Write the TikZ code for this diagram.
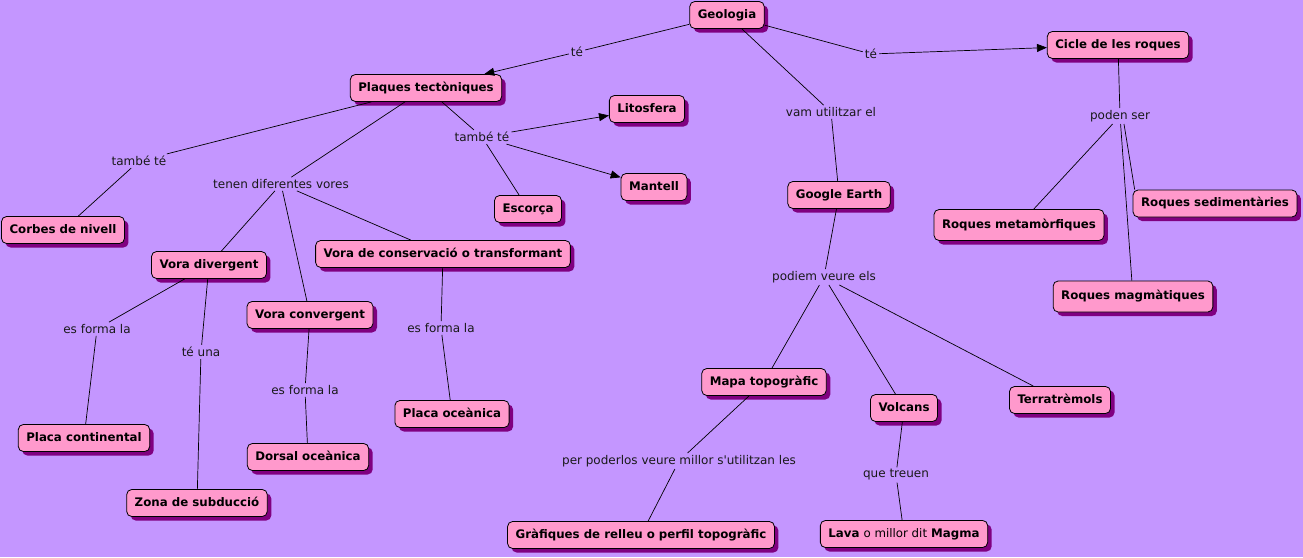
\documentclass[tikz,border=0pt]{standalone}
\usepackage{fontspec}
\setmainfont{DejaVu Sans}[Ligatures=TeXOff]
\usetikzlibrary{shadows,arrows.meta}
\definecolor{bg}{RGB}{196,150,255}
\definecolor{nodefill}{RGB}{255,153,204}
\definecolor{shadowc}{RGB}{128,0,128}
\begin{document}
\begin{tikzpicture}[x=1pt,y=-1pt,
 concept/.style={draw=black, fill=nodefill, rounded corners=5pt,
   font=\bfseries\fontsize{11.8}{13}\selectfont, inner xsep=8pt, inner ysep=7.5pt,
   text height=9pt, text depth=3pt,
   drop shadow={shadow xshift=4pt, shadow yshift=-4pt, fill=shadowc, opacity=1},
   line width=0.8pt},
 lbl/.style={font=\fontsize{12}{13}\selectfont, inner sep=2pt, text=black!90},
 conn/.style={draw, line width=0.7pt},
 arr/.style={conn, -{Triangle[length=10pt,width=8pt]}}]
\fill[bg] (0,0) rectangle (1303,557);
\useasboundingbox (0,0) rectangle (1303,557);

% concepts
\node[concept] (geo) at (727,15) {Geologia};
\node[concept] (plaq) at (426,88) {Plaques tectòniques};
\node[concept] (cicle) at (1118,45) {Cicle de les roques};
\node[concept] (lito) at (647,109) {Litosfera};
\node[concept] (mant) at (654,187) {Mantell};
\node[concept] (esc) at (528,209) {Escorça};
\node[concept] (corb) at (63,230) {Corbes de nivell};
\node[concept] (vdiv) at (209,265) {Vora divergent};
\node[concept] (vcons) at (443,254) {Vora de conservació o transformant};
\node[concept] (vconv) at (310,315) {Vora convergent};
\node[concept] (pcont) at (84,438) {Placa continental};
\node[concept] (zona) at (197,503) {Zona de subducció};
\node[concept] (dors) at (308,457) {Dorsal oceànica};
\node[concept] (poc) at (452,414) {Placa oceànica};
\node[concept] (goog) at (839,195) {Google Earth};
\node[concept] (mapa) at (764,382) {Mapa topogràfic};
\node[concept] (volc) at (904,408) {Volcans};
\node[concept] (terra) at (1060,400) {Terratrèmols};
\node[concept] (graf) at (641,535) {Gràfiques de relleu o perfil topogràfic};
\node[concept] (lava) at (904,534) {Lava {\mdseries o millor dit} Magma};
\node[concept, minimum height=31pt] (rmet) at (1019,225) {Roques metamòrfiques};
\node[concept] (rsed) at (1215,203.5) {Roques sedimentàries};
\node[concept, minimum height=31pt] (rmag) at (1133,296.5) {Roques magmàtiques};

% labels
\node[lbl] (l1) at (577,52) {té};
\node[lbl] (l2) at (871,54) {té};
\node[lbl] (l3) at (831,112) {vam utilitzar el};
\node[lbl] (l4) at (1120,116) {poden ser};
\node[lbl] (l5) at (139,161) {també té};
\node[lbl] (l6) at (281,184) {tenen diferentes vores};
\node[lbl] (l7) at (482,137) {també té};
\node[lbl] (l8) at (824,277) {podiem veure els};
\node[lbl] (l9) at (97,329) {es forma la};
\node[lbl] (l10) at (201,352) {té una};
\node[lbl] (l11) at (305,390) {es forma la};
\node[lbl] (l12) at (441,328) {es forma la};
\node[lbl] (l13) at (679,461) {per poderlos veure millor s'utilitzan les};
\node[lbl] (l14) at (896,475) {que treuen};
\coordinate (rsedin) at ([xshift=2pt]rsed.north west);

% connectors
\draw[conn] (geo) -- (l1);
\draw[arr] (l1) -- (plaq);
\draw[conn] (geo) -- (l2);
\draw[arr] (l2) -- (cicle);
\draw[conn] (geo) -- (l3);
\draw[conn] (l3) -- (goog);
\draw[conn] (cicle) -- (l4);
\draw[conn] (l4) -- (rmet);
\draw[conn] (l4.south) ++(4pt,0) -- (rsedin);
\draw[conn] (l4) -- (rmag);
\draw[conn] (plaq) -- (l5);
\draw[conn] (l5) -- (corb);
\draw[conn] (plaq) -- (l6);
\draw[conn] (l6) -- (vdiv);
\draw[conn] (l6) -- (vconv);
\draw[conn] (l6) -- (vcons);
\draw[conn] (plaq) -- (l7);
\draw[arr] (l7) -- (lito);
\draw[arr] (l7) -- (mant);
\draw[conn] (l7) -- (esc);
\draw[conn] (vdiv) -- (l9);
\draw[conn] (l9) -- (pcont);
\draw[conn] (vdiv) -- (l10);
\draw[conn] (l10) -- (zona);
\draw[conn] (vconv) -- (l11);
\draw[conn] (l11) -- (dors);
\draw[conn] (vcons) -- (l12);
\draw[conn] (l12) -- (poc);
\draw[conn] (goog) -- (l8);
\draw[conn] (l8) -- (mapa);
\draw[conn] (l8) -- (volc);
\draw[conn] (l8) -- (terra);
\draw[conn] (mapa) -- (l13);
\draw[conn] (l13) -- (graf);
\draw[conn] (volc) -- (l14);
\draw[conn] (l14) -- (lava);
\end{tikzpicture}
\end{document}
